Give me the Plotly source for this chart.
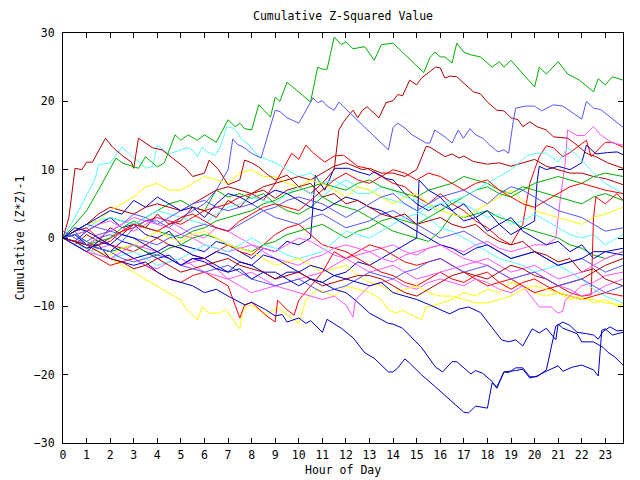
import plotly.graph_objects as go

# ---- data: (hour, cumulative value) ----
G1 = [(0,0),(0.5,2),(1,4),(1.5,7),(2.0,10),(2.25,11.7),(2.5,11),(3.2,10.2),(3.5,11.9),(4.0,10.4),(4.3,11),(4.75,15.1),(5.0,14.3),(5.3,15.1),(5.7,14.3),(6.0,15.1),(6.5,14),(7.0,17.3),(7.3,16.3),(7.5,16.8),(7.7,16),(8.0,15.8),(8.3,19.5),(8.8,17.7),(9.0,20.6),(9.2,20),(9.5,22.8),(10.5,19.9),(10.8,25),(11.0,24.7),(11.2,24.7),(11.5,29.4),(11.8,28.3),(12.0,28.7),(12.3,27.7),(12.8,28),(13.2,26),(13.5,28.3),(14.0,28.5),(15.3,24.2),(15.56,26.4),(15.78,27.2),(16.0,26.5),(16.2,26.5),(16.5,25.6),(16.7,28.5),(17.0,27.2),(17.3,26.8),(17.7,26.5),(18.0,25.6),(18.2,25),(18.5,25.8),(18.7,25),(19.0,26),(20.0,22.1),(20.2,25),(20.5,24),(21.0,25.8),(21.4,24),(21.9,23.1),(22.5,21.4),(22.7,23.3),(23.0,22.4),(23.3,23.6),(23.75,23.1)]
DR1 = [(0,0),(0.5,-1),(1,0.5),(1.5,-0.5),(2,1.5),(2.5,0.5),(3,2),(3.5,1.5),(4,3.5),(4.5,2),(5,2.5),(5.5,4.5),(6,4),(6.5,3),(7,5.5),(7.5,4.5),(8,6.5),(8.5,7),(9,5.8),(9.5,7),(10,7.5),(10.5,6.5),(11,8),(11.5,10),(11.7,15.8),(11.9,17),(12.3,18.7),(12.5,17.6),(12.7,18.7),(12.9,19.2),(13.4,17.6),(13.7,19.8),(14.0,20.1),(14.2,21),(14.4,20.8),(14.7,23.1),(15.0,22.4),(15.2,23.4),(15.8,25),(16.0,24.9),(16.2,23.4),(16.4,23.7),(16.7,23.6),(17.1,22.4),(17.4,21.4),(17.7,21.1),(18.0,19.9),(18.4,18.7),(18.7,18.6),(19.0,17.6),(19.3,17.3),(19.5,16.3),(19.8,17),(20.1,16.3),(20.5,15.8),(20.8,14.8),(21.4,14.6),(21.8,13.6),(22.2,12.4),(22.6,11.9),(23.1,11),(23.75,10.2)]
LB1 = [(0,0),(0.5,1),(1,-1),(1.5,0),(2,0.5),(2.5,-0.5),(3,1.5),(3.5,2.5),(4,2.5),(4.5,1.5),(5,3),(5.5,4),(6,5),(6.5,7),(7.0,10),(7.2,14.5),(7.4,13.7),(7.7,13.2),(8.0,12.4),(8.4,11.7),(9.0,18.7),(9.2,18.5),(9.5,17.6),(10.0,16.8),(10.3,18.7),(10.6,20.5),(10.8,19.8),(11.0,20.1),(11.2,19.3),(11.5,18.7),(11.7,19.9),(11.9,19.2),(13.8,12.9),(14.0,16.2),(14.2,16.8),(14.5,16.1),(14.8,15.1),(15.4,13.9),(15.56,13.9),(15.77,15.8),(15.98,15.3),(16.2,14.8),(16.5,13.9),(16.76,15.8),(16.98,14.6),(17.26,16),(17.5,15.1),(17.8,14.6),(18.1,13.6),(18.45,12.6),(18.7,12.9),(18.9,12.4),(19.1,17.2),(19.2,19.0),(19.6,19.3),(20.0,19.3),(20.3,18.6),(20.8,19.5),(21.2,19.3),(21.8,17.9),(22.0,17.4),(22.2,20),(22.5,19),(22.8,18.8),(23.3,17.4),(23.75,16.2)]
DR3 = [(0,0),(0.25,3),(0.44,8.25),(0.51,10.2),(0.8,10),(1.0,11.1),(1.25,11.1),(1.8,14.6),(2.1,13.3),(2.5,12.1),(2.9,11.1),(3.0,10.2),(3.2,14.6),(3.5,13.9),(3.8,13.2),(4.2,12.9),(4.5,12.1),(4.9,11.1),(5.2,10.2),(5.5,9),(6.0,9.5),(6.2,11.4),(6.6,10),(7.0,7.8),(7.5,8.5),(7.7,11.4),(8.0,11),(8.3,10.4),(8.6,9.5),(9,8.5),(9.5,9.2),(10,7.5),(10.5,8),(11,6),(11.5,6.5),(12,5),(12.5,5.5),(13,4.5),(13.5,3.5),(14,3),(14.5,3.5),(15,2),(15.5,2.5),(16,3),(16.5,2),(17,1.5),(17.5,2),(18,0.5),(18.5,-0.5),(19,-1),(19.5,-0.5),(20,-2),(20.5,-2.5),(21,-3.5),(21.5,-3),(22,-5),(22.5,-4.5),(23,-6),(23.75,-7)]
C1 = [(0,0),(0.5,3),(1.09,6.8),(1.37,8.7),(1.5,10.7),(2.0,11),(2.5,13.3),(2.7,12.6),(3.0,11.7),(3.3,11),(3.5,10.2),(3.8,10.5),(4.0,13.6),(4.25,12.9),(4.5,12.3),(5.0,12.9),(5.25,13.2),(5.5,12.9),(5.7,11.9),(5.9,13.3),(6.1,12.6),(6.45,12.1),(6.66,13.2),(6.95,16.3),(7.2,16.1),(7.4,15.4),(7.6,14.3),(7.9,13.6),(8.3,11.9),(8.5,11.7),(9,11),(9.5,10),(10,9),(10.5,9.5),(11,8),(11.5,8.5),(12,7.5),(12.5,6.5),(13,6.5),(13.5,7.5),(14,7),(14.5,6),(15,5.5),(15.5,4.5),(16,4),(16.5,5.5),(17,5),(17.5,4),(18,3),(18.5,3.5),(19,2),(19.5,2.5),(20,3.5),(20.5,2.5),(21,1.5),(21.5,0.5),(22,0),(22.5,0.5),(23,-1),(23.75,0.5)]
N1 = [(0,0),(0.5,-0.5),(1,-1.5),(1.5,-1),(2,-3),(2.5,-3.5),(3,-4),(3.5,-3.5),(4,-5),(4.5,-6),(5,-6.5),(5.5,-7),(6,-8),(6.5,-7.5),(7,-8.5),(7.72,-9.8),(8.0,-9.4),(8.6,-10.5),(9.0,-11.4),(9.3,-11.2),(9.5,-12.3),(10,-11.7),(10.3,-12.5),(10.5,-12.1),(11,-13.8),(11.2,-11.9),(11.8,-13.2),(12.3,-14.6),(12.8,-16.8),(13.2,-17.6),(13.8,-19.6),(14.0,-19.6),(14.2,-19),(14.5,-17.7),(14.7,-18.3),(15.2,-20),(15.8,-21.8),(16.1,-22.7),(16.5,-24),(17,-25.5),(17.2,-25.6),(17.5,-24.6),(18,-24.9),(18.2,-21.2),(18.4,-21.8),(18.7,-19.6),(18.9,-19.7),(19.2,-19),(19.5,-19),(19.8,-20.3),(20.1,-20.3),(20.5,-19.3),(20.9,-12.9),(21.2,-12.3),(21.5,-12.8),(21.8,-13.8),(22.2,-14),(22.5,-14.2),(22.7,-14.8),(22.9,-13.7),(23.2,-13),(23.5,-13.6),(23.75,-13.5)]
N2 = [(0,0),(0.5,-1),(1,-2),(1.5,-0.5),(2,-1),(2.5,-2),(3,-3),(3.5,-2.5),(4,-2),(4.5,-3),(5,-4),(5.5,-3),(6,-3.5),(6.5,-4.5),(7,-5),(7.5,-4.5),(8,-6),(8.5,-5),(9,-5),(9.5,-6),(10,-7),(10.5,-6),(11,-6.5),(11.5,-7.5),(12,-8),(12.4,-9.1),(13,-11),(13.8,-12.5),(14,-12.6),(14.4,-13.2),(15.2,-16),(15.8,-18.9),(16.1,-19.6),(16.5,-18.1),(16.7,-18.1),(17.3,-19.9),(17.5,-19.4),(17.8,-19.8),(18.2,-21),(18.4,-22),(18.7,-19.6),(19.2,-19.4),(19.5,-19.2),(19.8,-20.5),(20.1,-20.2),(20.5,-19.5),(21,-18.7),(21.2,-19.5),(21.6,-18.9),(22,-18.6),(22.5,-19.3),(22.7,-20.2),(22.85,-13.5),(23.0,-13.3),(23.3,-14.2),(23.75,-13.8)]
N3 = [(0,0),(0.5,1.5),(1,1),(1.5,0),(2,-1),(2.5,0.5),(3,0),(3.5,-1),(4,-2),(4.5,-1),(5,-1.5),(5.5,-2.5),(6,-3),(6.5,-2),(7,-2.5),(7.5,-3.5),(8,-4),(8.5,-2.5),(9,-3),(9.5,-4),(10,-5),(10.5,-4),(11,-4.5),(11.5,-5.5),(12,-6),(12.5,-6.5),(13,-7),(13.5,-6.5),(14,-8),(14.5,-8.5),(15,-9),(15.56,-9.8),(16,-10.5),(16.4,-11.1),(16.8,-10.4),(17.2,-10.1),(17.7,-10.9),(18.6,-14.9),(18.9,-15.2),(19.2,-14.9),(19.5,-15.8),(19.8,-13.9),(19.9,-13.3),(20.2,-13.9),(20.5,-13.2),(20.9,-14.9),(21.0,-12.6),(21.2,-13.2),(21.8,-14),(22.0,-15.2),(22.5,-15.2),(22.9,-16),(23.1,-16.7),(23.4,-17.4),(23.75,-18.6)]
N4 = [(0,0),(0.5,-0.5),(1,1),(1.5,2),(2,3),(2.5,1.5),(3,2),(3.5,0.5),(4,0),(4.5,1),(5,-1),(5.5,-1.5),(6,-2),(6.5,-0.5),(7,-1),(7.5,-2),(8,-3),(8.5,-1.5),(9,-2),(9.5,-0.5),(10,-1),(10.5,0),(10.7,9.2),(11.1,7),(11.5,10.2),(12.1,10.2),(12.5,9.7),(13,9.2),(13.2,9.7),(13.7,8.7),(14,8.5),(14.5,6.5),(15,5),(15.5,4),(16,5),(16.5,4),(17,2.5),(17.5,3),(18,1),(18.5,2),(19,0.5),(19.5,1.5),(20,2.5),(20.1,8),(20.2,10.5),(20.5,10),(21,10.5),(21.5,10),(22,11),(22.2,13.6),(22.6,12.3),(23.1,12.5),(23.5,12.6),(23.75,12.2)]
N5 = [(0,0),(0.5,0.5),(1,-1),(1.5,-1.5),(2,-2),(2.5,-0.5),(3,-1),(3.5,-2),(4,-3),(4.5,-2.5),(5,-4),(5.5,-3),(6,-3),(6.5,-4),(7,-5),(7.5,-3.5),(8,-4),(8.5,-5),(9,-6),(9.5,-5),(10,-5),(10.5,-6),(11,-6.5),(11.5,-5.5),(12,-5),(12.5,-3.5),(13,-4),(13.5,-3),(14,-2),(14.5,-1),(15.0,0),(15.1,8.5),(15.5,7),(16,6),(16.5,4),(17,5),(17.5,3),(18,4),(18.5,2),(19,3),(19.5,1),(20,0),(20.5,-1),(21,-0.5),(21.5,-2),(22,-1),(22.5,-3),(23,-2),(23.75,-1.5)]
N6 = [(0,0),(0.5,1),(1,2),(1.5,3),(2,4),(2.5,3.5),(3,5.5),(3.5,4.5),(4,6),(4.5,5),(5,4),(5.5,4.5),(6,3),(6.5,5),(7,6.5),(7.5,6),(8,5),(8.5,6),(9,7),(9.5,6.5),(10,5.5),(10.5,4.5),(11,4),(11.5,5),(12,6),(12.5,5.5),(13,4.5),(13.5,4),(14,3),(14.5,2),(15,1),(15.5,0),(16,-1),(16.5,-1.5),(17,-2.5),(17.5,-1.5),(18,-1),(18.5,-2),(19,-3),(19.5,-2.5),(20,-2),(20.5,-3),(21,-4),(21.5,-3.5),(22,-3),(22.5,-2),(23,-2),(23.75,-2.5)]
Y1 = [(0,0),(0.5,-0.5),(1,-1.5),(1.5,-2.5),(2,-3),(2.5,-4),(3,-5),(3.5,-6),(4,-7),(4.5,-8),(5.0,-9.1),(5.2,-10.3),(5.7,-12),(5.9,-10.1),(6.2,-11),(6.6,-11),(6.9,-10.5),(7.5,-13.3),(7.6,-11),(7.8,-9.8),(8.1,-10),(8.6,-11.3),(9.1,-10.2),(10,-12.5),(10.3,-9.1),(10.8,-7.5),(11.5,-8.5),(12,-7),(12.5,-7.5),(13,-8),(13.5,-9),(13.8,-10.5),(14.1,-11),(14.4,-10.6),(14.8,-11.3),(15.2,-12),(15.4,-10.1),(15.8,-9.8),(16.5,-9),(17,-8),(17.5,-8.5),(18,-7.5),(18.5,-8),(19,-6.5),(19.5,-7),(20,-8),(20.5,-8.5),(21,-8),(21.5,-9),(22,-8.5),(22.5,-9.5),(23,-9),(23.5,-10),(23.75,-9.5)]
Y2 = [(0,0),(0.5,1),(1,2),(1.5,2.5),(2,4),(2.5,5),(3,6),(3.5,7.5),(4,8),(4.5,7),(5,7),(5.5,8),(6,9),(6.5,8.5),(7,8),(7.5,9.5),(8,10),(8.5,9),(9,9),(9.5,8),(10,7.5),(10.5,8.5),(11,8),(11.5,7),(12,6),(12.5,7.5),(13,7),(13.5,6),(14,5),(14.5,6),(15,6.5),(15.5,5),(16,4),(16.5,3.5),(17,3),(17.5,4),(18,5),(18.5,6),(19,7),(19.5,5.5),(20,4),(20.5,3.5),(21,3),(21.5,2.5),(22,2),(22.5,3),(23,3.5),(23.75,4.5)]
Y3 = [(0,0),(0.5,-0.5),(1,-1),(1.5,-2),(2,-2.5),(2.5,-1.5),(3,-1),(3.5,0),(4,1),(4.5,0),(5,-0.5),(5.5,0.5),(6,1),(6.5,0),(7,-1),(7.5,-1.5),(8,-2),(8.5,-3),(9,-4),(9.5,-3.5),(10,-3),(10.5,-4),(11,-5),(11.5,-4.5),(12,-4),(12.5,-5.5),(13,-6.5),(13.5,-7),(14,-8),(14.5,-7.5),(15,-7),(15.5,-8),(16,-8.5),(16.5,-8.5),(17,-9),(17.5,-9.5),(18,-9.5),(18.5,-9),(19,-8.5),(19.5,-7.5),(20,-7),(20.5,-7.5),(21,-8),(21.5,-8.5),(22,-9),(22.5,-9),(23,-9.5),(23.75,-9.8)]
M1 = [(0,0),(0.5,0.5),(1,1),(1.5,2),(2,2.5),(2.5,1.5),(3,1),(3.5,2),(4,3),(4.5,2.5),(5,1.5),(5.5,0.5),(6,0),(6.5,1.5),(7,1),(7.5,0),(8,-1),(8.5,-1.5),(9,-2),(9.5,-1),(10,0),(10.5,-0.5),(11,-1.5),(11.5,-2.5),(12,-3),(12.5,-2.5),(13,-2),(13.5,-1.5),(14,-1),(14.5,-2),(15,-2.5),(15.5,-1.5),(16,-1),(16.5,-1.5),(17,-2),(17.5,-1),(18,-0.5),(18.5,-1.5),(19,-2),(19.5,-1.5),(20,-1),(20.5,-1),(20.9,0),(21.1,6),(21.3,11),(21.4,15.8),(21.8,15),(22.1,15),(22.5,16.3),(22.8,15.1),(23.3,13.9),(23.75,13.6)]
M2 = [(0,0),(0.5,-1),(1,-2),(1.5,-1.5),(2,-1),(2.5,-2),(3,-3),(3.5,-4),(4,-4.5),(4.5,-3.5),(5,-3),(5.5,-4),(6,-5),(6.5,-5.5),(7,-6),(7.5,-5.5),(8,-5),(8.5,-6),(9,-7),(9.5,-7.5),(10,-8),(10.5,-8.5),(11,-9),(11.5,-8.5),(12.0,-9.8),(12.3,-11.6),(12.4,-9.1),(13,-7),(13.5,-6.5),(14,-6),(14.5,-7),(15,-7.5),(15.5,-6.5),(16,-6),(16.5,-6.5),(17,-7),(17.5,-6),(18,-6.5),(18.5,-7.5),(19,-8),(19.5,-7),(20.0,-9.1),(20.2,-10.1),(20.7,-10.1),(21.0,-11),(21.2,-10.7),(21.3,-9.1),(22,-7),(22.5,-6.5),(23,-5.5),(23.75,-5)]
M3 = [(0,0),(0.5,-0.5),(1,-1),(1.5,0),(2,1),(2.5,2),(3,3),(3.5,2.5),(4,2),(4.5,1.5),(5,0.5),(5.5,0),(6,-1),(6.5,-1.5),(7,-2),(7.5,-1.5),(8,-1),(8.5,-2),(9,-3),(9.5,-3.5),(10,-4),(10.5,-3),(11,-2.5),(11.5,-1.5),(12,-1),(12.5,-1.5),(13,-2),(13.5,-3),(14,-3.5),(14.5,-2.5),(15,-2),(15.5,-1.5),(16,-1),(16.5,-2),(17,-3),(17.5,-3.5),(18,-4),(18.5,-5),(19,-6),(19.5,-5.5),(20,-5),(20.5,-6),(21,-7),(21.5,-7.5),(22,-8.5),(22.5,-8),(23,-7),(23.75,-6)]
M4 = [(0,0),(0.5,-1),(1,-2),(1.5,-2.5),(2,-3),(2.5,-2),(3,-1),(3.5,-1.5),(4,-2),(4.5,-3),(5,-4),(5.5,-3.5),(6,-3),(6.5,-4.5),(7,-6),(7.5,-7),(8,-8),(8.5,-7.5),(9,-7),(9.5,-6.5),(10,-6),(10.5,-5.5),(11,-5),(11.5,-4),(12,-3),(12.5,-4),(13,-5),(13.5,-4.5),(14,-4),(14.5,-5),(15,-6),(15.5,-5.5),(16,-5),(16.5,-4.5),(17,-4),(17.5,-3.5),(18,-3),(18.5,-4),(19,-5),(19.5,-4.5),(20,-4),(20.5,-5),(21,-6),(21.5,-5.5),(22,-5),(22.5,-4),(23,-3),(23.75,-2)]
C2 = [(0,0),(0.5,1),(1,1.5),(1.5,2.5),(2,3),(2.5,2.5),(3,2),(3.5,3),(4,4),(4.5,3.5),(5,3),(5.5,2.5),(6,2),(6.5,3.5),(7,4.5),(7.5,5),(8,6),(8.5,5.5),(9,5),(9.5,6.5),(10,7.5),(10.5,6.5),(11,6),(11.5,7.5),(12,8.5),(12.5,7.5),(13,7),(13.5,6),(14,5.5),(14.5,5),(15,4),(15.5,3),(16,1.5),(16.5,1),(17,0),(17.5,-1),(18,-2),(18.5,-3),(19,-3.5),(19.5,-4),(20,-5),(20.5,-4.5),(21,-4),(21.5,-5),(22,-6),(22.5,-7.5),(23,-8.5),(23.75,-9.5)]
C3 = [(0,0),(0.5,-1),(1,-1.5),(1.5,-2.5),(2,-3),(2.5,-2.5),(3,-2),(3.5,-3),(4,-4),(4.5,-3.5),(5,-3),(5.5,-2),(6,-1),(6.5,-1.5),(7,-2),(7.5,-1),(8,0),(8.5,-1),(9,-1.5),(9.5,-2.5),(10,-3),(10.5,-2.5),(11,-2),(11.5,-0.5),(12,1),(12.5,0.5),(13,0),(13.5,1),(14,2),(14.5,3),(15,3.5),(15.5,4.5),(16,5),(16.5,5.5),(17,6),(17.5,7),(18,8),(18.5,9),(19,10),(19.7,12.1),(20.1,12.4),(20.5,12.4),(21,11.1),(21.4,13.2),(21.8,12.1),(22.1,11),(22.5,9.5),(23,8),(23.75,6.5)]
G2 = [(0,0),(0.5,0.5),(1,1),(1.5,2),(2,3),(2.5,2.5),(3,2),(3.5,3),(4,4),(4.5,5),(5,5.5),(5.5,4.5),(6,4),(6.5,7),(7,6),(7.5,6.5),(8,5.8),(8.5,6.5),(9,5),(9.5,4),(10,3.5),(10.5,4.5),(11,6),(11.5,5),(12,4.5),(12.5,4),(13,3),(13.5,2),(14,1),(14.5,0.5),(15,0),(15.5,-0.5),(16,1),(16.5,3.5),(17,3),(17.5,3.5),(18,4),(18.5,3),(19,2.5),(19.5,1.5),(20,1),(20.5,0.5),(21,0),(21.5,-1),(22,-1.5),(22.5,-2.5),(23,-3),(23.75,-2)]
G3 = [(0,0),(0.5,-0.5),(1,-1),(1.5,-0.5),(2,0),(2.5,1.5),(3,2.5),(3.5,1.5),(4,1),(4.5,0.5),(5,0),(5.5,1),(6,1.5),(6.5,2.5),(7,3),(7.5,3.5),(8,4),(8.5,5),(9,5.5),(9.5,6.5),(10,7),(10.5,7.5),(11,8),(11.5,7.5),(12,7),(12.5,8),(13,8.5),(13.5,7.5),(14,7),(14.5,6.5),(15,6),(15.5,7),(16,7.5),(16.5,8),(17,9),(17.5,8.5),(18,8),(18.5,7),(19,6.5),(19.5,7.5),(20,7),(20.5,6.5),(21,6),(21.5,5.5),(22,5),(22.5,6),(23,6.5),(23.75,5.5)]
G4 = [(0,0),(0.5,0.5),(1,-0.5),(1.5,-1.5),(2,-2),(2.5,-1.5),(3,-1),(3.5,-2),(4,-2.5),(4.5,-1.5),(5,-1),(5.5,0),(6,0.5),(6.5,0),(7,-1),(7.5,-1.5),(8,-2),(8.5,-1),(9,-0.5),(9.5,0.5),(10,1),(10.5,1.5),(11,2),(11.5,1),(12,0),(12.5,1),(13,1.5),(13.5,2.5),(14,3),(14.5,2.5),(15,2),(15.5,3),(16,4),(16.5,5),(17,6),(17.5,7),(18,7.5),(18.5,6.5),(19,6),(19.5,7),(20,8),(20.5,8.5),(21,9),(21.5,8.5),(22,8),(22.5,9),(23,9.5),(23.75,9)]
R2 = [(0,0),(0.5,-0.5),(1,-1.5),(1.5,-1),(2,0),(2.5,1),(3,1.5),(3.5,2.5),(4,3),(4.5,2.5),(5,2),(5.5,3),(6,4),(6.5,4.5),(7,5),(7.5,6),(8,6.5),(8.5,5.5),(9,8),(9.4,10.5),(9.7,12.4),(10,11.5),(10.3,13.6),(10.6,12.5),(11.1,11.1),(11.5,12),(11.9,12.1),(12.5,10.5),(12.9,10.2),(13.5,9),(14,8),(14.5,7.5),(15,6),(15.5,5),(16,6.5),(16.5,5),(17,4),(17.5,2.5),(18,1.5),(18.5,0),(19,-1),(19.5,2),(19.8,8),(20.0,10),(20.2,11.9),(20.5,13.5),(20.8,13.2),(21.2,11.9),(21.5,12.5),(22.2,14.3),(22.4,11.9),(23.0,14),(23.3,14),(23.75,13.3)]
R3 = [(0,0),(0.5,-1),(1,-2),(1.5,-3),(2,-4),(2.5,-3.5),(3,-3),(3.5,-4),(4,-5),(4.5,-6),(5,-6.5),(5.5,-5.5),(6,-5),(6.5,-6),(7,-7),(7.5,-11.7),(7.7,-9.8),(8,-9.4),(8.6,-11.3),(9.0,-12.3),(9.1,-9.1),(9.5,-10.5),(9.8,-11.3),(10.0,-9.1),(10.5,-7),(11,-5),(11.5,-2),(12,-3),(12.5,-2),(13,-1),(13.5,-1.5),(14,-2.5),(14.5,-3.5),(15,-4),(15.5,-3.5),(16,-3),(16.5,-4),(17,-5),(17.5,-6),(18,-7),(18.5,-6.5),(19,-6),(19.5,-7),(20,-8),(20.5,-7.5),(21,-7),(21.5,-8),(22,-8.5),(22.4,-8.3),(22.5,3),(22.6,6),(23,5),(23.5,6.5),(23.75,5.5)]
R4 = [(0,0),(0.5,1),(1,1.5),(1.5,0),(2,-1),(2.5,-1.5),(3,-2),(3.5,-1),(4,0),(4.5,-1),(5,-1.5),(5.5,-2.5),(6,-3),(6.5,-2),(7,-1),(7.5,-2),(8,-2.5),(8.5,-1),(9,0.5),(9.5,1.5),(10,2),(10.5,0.5),(11,-1),(11.5,-1.5),(12,-2),(12.5,-3),(13,-4),(13.5,-5),(14,-5.5),(14.5,-6.5),(15,-7),(15.5,-6),(16,-5),(16.5,-6),(17,-6.5),(17.5,-5.5),(18,-5),(18.5,-6.5),(19,-7.5),(19.5,-6.5),(20,-6),(20.5,-7),(21,-8),(21.5,-8.5),(22,-9),(22.5,-8.5),(23,-8),(23.75,-8.5)]
R5 = [(0,0),(0.5,-0.5),(1,-1),(1.5,-1),(2,-0.5),(2.5,1),(3,2),(3.5,1.5),(4,1),(4.5,2),(5,3),(5.5,3.5),(6,2.5),(6.5,1.5),(7,1),(7.5,2.5),(8,3.5),(8.5,4.5),(9,5),(9.5,4.5),(10,4),(10.5,5.5),(11,7),(11.5,8.5),(12,9.5),(12.5,8.5),(13,8),(13.5,9),(14,10),(14.5,9.5),(15,8.5),(15.5,9.5),(16,9),(16.5,8),(17,7),(17.5,8),(18,8.5),(18.5,7),(19,6),(19.5,5),(20,4.5),(20.5,5.5),(21,6.5),(21.5,7.5),(22,8),(22.5,7.5),(23,7),(23.75,6.5)]
DR2 = [(0,0),(0.5,1),(1,2),(1.5,3.5),(2,4.5),(2.5,4),(3,3.5),(3.5,4.5),(4,5),(4.5,4.5),(5,4),(5.5,5),(6,6),(6.5,7),(7,7.5),(7.5,7),(8,6.5),(8.5,7.5),(9,8),(9.5,8.5),(10,9),(10.5,8.5),(11,9.5),(11.5,10.5),(12,11),(12.7,10),(13,10.2),(13.5,9.5),(14,9.5),(14.5,9),(15,10),(15.4,13.4),(15.56,13.3),(16.2,11.9),(16.5,12.3),(16.8,11.7),(17.0,12),(17.4,11.2),(18,10.8),(18.5,11),(19,10.5),(19.5,11),(20,11.5),(20.5,10.5),(21,10),(21.5,9.5),(22,9.5),(22.5,9),(23,8.7),(23.75,7.8)]
DR4 = [(0,0),(0.5,-0.5),(1,-1),(1.5,-2),(2,-3),(2.5,-3.5),(3,-4.5),(3.5,-4),(4,-3),(4.5,-4),(5,-5),(5.5,-4.5),(6,-4),(6.5,-3.5),(7,-3),(7.5,-4),(8,-4.5),(8.5,-5),(9,-6),(9.5,-5.5),(10,-5),(10.5,-6),(11,-7),(11.5,-6.5),(12,-6),(12.5,-5.5),(13,-5.5),(13.5,-6),(14,-7),(14.5,-8),(15,-8.5),(15.5,-7.5),(16,-6.5),(16.5,-5.5),(17,-5),(17.5,-5.5),(18,-6),(18.5,-5),(19,-4),(19.5,-4.5),(20,-5.5),(20.5,-6),(21,-7),(21.5,-6.5),(22,-6),(22.5,-5),(23,-4),(23.75,-3)]
LB2 = [(0,0),(0.5,1),(1,2),(1.5,1.5),(2,1),(2.5,2),(3,3.5),(3.5,3),(4,2),(4.5,3),(5,4),(5.5,5),(6,5.5),(6.5,4.5),(7,4),(7.5,4.5),(8,5),(8.5,4),(9,3),(9.5,2.5),(10,2),(10.5,3),(11,3.5),(11.5,2.5),(12,1.5),(12.5,2),(13,2.5),(13.5,3.5),(14,4),(14.5,3),(15,2),(15.5,1),(16,0),(16.5,0.5),(17,1),(17.5,0),(18,-1),(18.5,-2),(19,-3),(19.5,-2.5),(20,-2),(20.5,-3),(21,-4),(21.5,-3.5),(22,-3),(22.5,-4),(23,-5),(23.75,-4)]
LB3 = [(0,0),(0.5,0.5),(1,-0.5),(1.5,0.5),(2,1),(2.5,0.5),(3,0),(3.5,-0.5),(4,-1),(4.5,0),(5,0.5),(5.5,1.5),(6,2),(6.5,1.5),(7,1),(7.5,2),(8,3),(8.5,4),(9,4.5),(9.5,5.5),(10,6),(10.5,5.5),(11,5),(11.5,4),(12,3),(12.5,4),(13,5),(13.5,6),(14,6.5),(14.5,5),(15,4),(15.5,5),(16,6),(16.5,6.5),(17,7),(17.5,6),(18,5),(18.5,6.5),(19,7.5),(19.5,7),(20,6),(20.5,5),(21,4),(21.5,3.5),(22,3),(22.5,2),(23,1),(23.75,1.5)]
LB4 = [(0,1),(0.5,0),(1,-1),(1.5,-1.5),(2,-2),(2.5,-3),(3,-3.5),(3.5,-3),(4,-2.5),(4.5,-3),(5,-4),(5.5,-4.5),(6,-5),(6.5,-4.5),(7,-4),(7.5,-5),(8,-6),(8.5,-6.5),(9,-7),(9.5,-6.5),(10,-6),(10.5,-7),(11,-8),(11.5,-7.5),(12,-7),(12.5,-6),(13,-5),(13.5,-5.5),(14,-6),(14.5,-5),(15,-4.5),(15.5,-3.5),(16,-3),(16.5,-4),(17,-5),(17.5,-4.5),(18,-4),(18.5,-5),(19,-6),(19.5,-5.5),(20,-5),(20.5,-6),(21,-7),(21.5,-6.5),(22,-6),(22.5,-7),(23,-8),(23.75,-7)]

X_TICKS = list(range(0, 24))
Y_TICKS = [-30, -20, -10, 0, 10, 20, 30]

RED, GREEN, NAVY, MAG, CYAN, DRED, YEL, LBLUE = ("#ff0000", "#00b000", "#0000c8", "#ff55ff",
                                                  "#55ffff", "#b00000", "#ffff00", "#5555ff")
SERIES = [
    (R2, RED), (G2, GREEN), (N4, NAVY), (M1, MAG), (C1, CYAN), (DR1, DRED), (Y1, YEL), (LB1, LBLUE),
    (R3, RED), (G3, GREEN), (N5, NAVY), (M2, MAG), (C2, CYAN), (DR2, DRED), (Y2, YEL), (LB2, LBLUE),
    (R4, RED), (G4, GREEN), (N6, NAVY), (M3, MAG), (C3, CYAN), (DR3, DRED), (Y3, YEL), (LB3, LBLUE),
    (R5, RED), (G1, GREEN), (N1, NAVY), (M4, MAG), (DR4, DRED), (LB4, LBLUE), (N2, NAVY), (N3, NAVY),
]

fig = go.Figure()
for pts, col in SERIES:
    fig.add_trace(go.Scatter(x=[p[0] for p in pts], y=[p[1] for p in pts], mode="lines",
                             line=dict(color=col, width=1), hoverinfo="skip", showlegend=False))

# The page body adds an 8px offset, so margins are shifted to land the plot box at 63..623 x 33..443
FONT = dict(family="DejaVu Sans Mono", size=11.5, color="black")
fig.update_layout(
    width=640, height=480, margin=dict(l=55, r=25, t=25, b=45),
    paper_bgcolor="white", plot_bgcolor="white", font=FONT, showlegend=False,
    title=dict(text="Cumulative Z-Squared Value", x=(55 + 615) / 2 / 640, xanchor="center",
               y=1 - 8 / 480, yanchor="middle", font=FONT),
    annotations=[dict(text="Hour of Day", xref="paper", yref="paper", x=0.5, y=-27 / 410,
                      xanchor="center", yanchor="middle", showarrow=False, font=FONT)],
)
fig.update_xaxes(range=[0, 23.75], tickvals=X_TICKS, ticktext=[str(t) for t in X_TICKS],
                 ticks="inside", ticklen=5, tickcolor="black", showline=True, linecolor="black",
                 linewidth=1, mirror="ticks", showgrid=False, zeroline=False, ticklabelstandoff=1,
                 automargin=False)
fig.update_yaxes(range=[-30, 30], tickvals=Y_TICKS, ticks="inside", ticklen=5, tickcolor="black",
                 showline=True, linecolor="black", linewidth=1, mirror="ticks", showgrid=False,
                 zeroline=False, ticklabelstandoff=5, automargin=False,
                 title=dict(text="Cumulative (Z*Z)-1", standoff=6, font=FONT))

fig.write_html("out.html")
